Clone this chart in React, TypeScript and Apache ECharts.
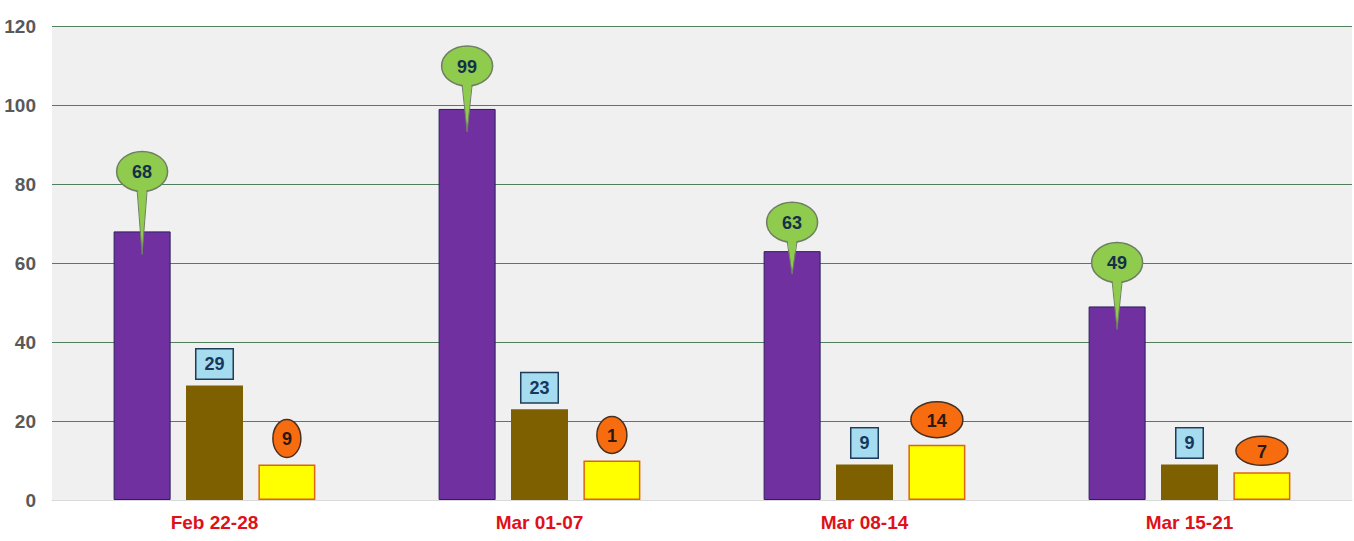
import React, { useEffect, useRef } from "react";
import * as echarts from "echarts";

const categories = ["Feb 22-28", "Mar 01-07", "Mar 08-14", "Mar 15-21"];
const purpleValues = [68, 99, 63, 49];
const brownValues = [29, 23, 9, 9];
const yellowValues = [9, 10, 14, 7];
const yellowLabels = ["9", "1", "14", "7"];
const yTicks = [0, 20, 40, 60, 80, 100, 120];

// style only: balloon centre height above bar top (px)
const balloonLift = [60, 43, 29, 44];
// style only: orange badge radii [rx, ry]
const yellowBadgeSize = [
  [14, 19],
  [15, 18.5],
  [26, 18],
  [26, 14.5],
];

const FONT = 'Arial, "Liberation Sans", sans-serif';
const BAR_W = 57;
const BAR_GAP = "27%";

function barCenterOffset(api: any, idx: number, fallback: number) {
  try {
    const layout = api.barLayout({ count: 3, barWidth: BAR_W, barGap: BAR_GAP });
    if (layout && layout[idx]) return layout[idx].offsetCenter;
  } catch (e) {}
  return fallback;
}

export default function App() {
  const ref = useRef<HTMLDivElement>(null);
  useEffect(() => {
    if (!ref.current) return;
    const chart = echarts.init(ref.current, undefined, { renderer: "svg" });
    const option: any = {
      animation: false,
      backgroundColor: "#ffffff",
      grid: {
        left: 52,
        right: 2,
        top: 26,
        bottom: 41,
        show: true,
        backgroundColor: "#f0f0f0",
        borderWidth: 0,
      },
      xAxis: {
        type: "category",
        data: categories,
        axisLine: { show: true, lineStyle: { color: "#d9d9d9", width: 1 } },
        axisTick: { show: false },
        axisLabel: {
          color: "#e0101a",
          fontWeight: "bold",
          fontSize: 19,
          fontFamily: FONT,
          margin: 13,
        },
      },
      yAxis: {
        type: "value",
        min: yTicks[0],
        max: yTicks[yTicks.length - 1],
        interval: 20,
        axisLine: { show: false },
        axisTick: { show: false },
        axisLabel: {
          color: "#595959",
          fontWeight: "bold",
          fontSize: 19,
          fontFamily: FONT,
          margin: 16,
        },
        splitLine: {
          show: true,
          lineStyle: { color: "#4f7f5c", width: 1.2 },
        },
      },
      series: [
        {
          type: "bar",
          name: "purple",
          data: purpleValues,
          barWidth: BAR_W,
          barGap: BAR_GAP,
          itemStyle: { color: "#7030a0", borderColor: "#2b1f5c", borderWidth: 1 },
          z: 2,
        },
        {
          type: "bar",
          name: "brown",
          data: brownValues,
          barWidth: BAR_W,
          barGap: BAR_GAP,
          itemStyle: { color: "#7f6000", borderWidth: 0 },
          label: {
            show: true,
            position: "top",
            distance: 7,
            color: "#17375e",
            fontWeight: "bold",
            fontSize: 18,
            fontFamily: FONT,
            backgroundColor: "#a6dcef",
            borderColor: "#1f3c5a",
            borderWidth: 1.5,
            padding: [6, 8, 5, 8],
          },
          z: 2,
        },
        {
          type: "bar",
          name: "yellow",
          data: yellowValues,
          barWidth: BAR_W,
          barGap: BAR_GAP,
          itemStyle: { color: "#ffff00", borderColor: "#e0650a", borderWidth: 1.5 },
          z: 2,
        },
        {
          type: "custom",
          name: "purpleBalloons",
          data: purpleValues.map((v, i) => [i, v]),
          encode: { x: 0, y: 1 },
          clip: false,
          z: 5,
          renderItem: (params: any, api: any) => {
            const i = api.value(0);
            const v = api.value(1);
            const pt = api.coord([i, v]);
            const cx = pt[0] + barCenterOffset(api, 0, -72.5);
            const top = pt[1];
            const cy = top - balloonLift[params.dataIndex];
            const rx = 25.5;
            const ry = 20;
            const tipY = top + 23;
            const fill = "#8fcb4c";
            const stroke = "#6f7f62";
            const jy = cy + ry - 2;
            return {
              type: "group",
              children: [
                {
                  type: "ellipse",
                  shape: { cx, cy, rx, ry },
                  style: { fill, stroke, lineWidth: 1.5 },
                },
                {
                  type: "polygon",
                  shape: {
                    points: [
                      [cx - 5, jy - 3],
                      [cx + 5, jy - 3],
                      [cx, tipY],
                    ],
                  },
                  style: { fill },
                },
                {
                  type: "polyline",
                  shape: { points: [[cx - 5, jy + 1], [cx, tipY], [cx + 5, jy + 1]] },
                  style: { fill: "none", stroke, lineWidth: 1 },
                },
                {
                  type: "text",
                  style: {
                    text: String(v),
                    x: cx,
                    y: cy + 1,
                    align: "center",
                    verticalAlign: "middle",
                    fill: "#14304a",
                    font: `bold 18px ${FONT}`,
                  },
                },
              ],
            };
          },
        },
        {
          type: "custom",
          name: "yellowBadges",
          data: yellowValues.map((v, i) => [i, v]),
          encode: { x: 0, y: 1 },
          clip: false,
          z: 5,
          renderItem: (params: any, api: any) => {
            const i = api.value(0);
            const v = api.value(1);
            const pt = api.coord([i, v]);
            const cx = pt[0] + barCenterOffset(api, 2, 72.5);
            const [rx, ry] = yellowBadgeSize[params.dataIndex];
            const cy = pt[1] - 7 - ry;
            return {
              type: "group",
              children: [
                {
                  type: "ellipse",
                  shape: { cx, cy, rx, ry },
                  style: { fill: "#f86c10", stroke: "#4a3020", lineWidth: 1.5 },
                },
                {
                  type: "text",
                  style: {
                    text: yellowLabels[params.dataIndex],
                    x: cx,
                    y: cy + 1,
                    align: "center",
                    verticalAlign: "middle",
                    fill: "#2a1a10",
                    font: `bold 18px ${FONT}`,
                  },
                },
              ],
            };
          },
        },
      ],
    };
    chart.setOption(option);
    return () => chart.dispose();
  }, []);
  return (
    <div
      ref={ref}
      style={{ position: "absolute", left: 0, top: 0, width: 1354, height: 541 }}
    />
  );
}
